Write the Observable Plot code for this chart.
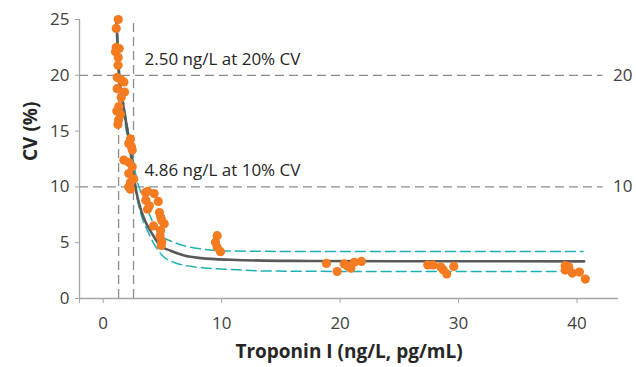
<!DOCTYPE html>
<html><head><meta charset="utf-8">
<script src="https://cdn.jsdelivr.net/npm/d3@7"></script>
<script src="https://cdn.jsdelivr.net/npm/@observablehq/plot@0.6"></script>
<style>body{margin:0;background:#fff}</style>
</head><body><div id="chart"></div>
<script>
// measured samples: Troponin I (ng/L) and CV (%)
const sampleConc = [1.27,1.10,1.10,1.35,1.04,1.27,1.25,1.18,1.50,1.75,1.18,1.80,1.52,1.32,1.15,1.46,1.30,1.24,
  2.30,2.16,2.39,2.45,1.74,2.16,2.45,2.16,2.58,2.30,2.16,2.30,
  3.57,3.75,4.30,3.60,3.90,4.65,3.75,4.75,4.85,5.15,4.25,4.95,4.85,4.80,4.95,4.90,
  9.62,9.48,9.62,9.90,
  18.85,19.75,20.35,20.65,20.90,21.20,21.80,
  27.4,27.85,28.5,28.7,29.0,29.6,
  39.0,39.3,39.0,39.6,40.2,40.7];
const sampleCV = [25.0,24.2,22.5,22.4,22.1,21.6,20.9,19.8,19.6,19.4,18.8,18.5,18.0,17.2,16.8,16.5,16.0,15.6,
  14.3,13.9,13.6,13.3,12.4,12.2,11.8,11.2,10.7,10.4,10.0,9.8,
  9.5,9.6,9.4,8.8,8.3,8.7,8.0,7.7,7.3,6.7,6.5,7.0,6.1,5.6,5.1,4.75,
  5.63,5.05,4.6,4.2,
  3.14,2.42,3.1,2.9,2.72,3.25,3.32,
  3.0,3.0,2.82,2.57,2.2,2.87,
  2.94,2.85,2.55,2.28,2.37,1.74];
// precision profile fit
const fitConc = [1.12,1.34,1.66,2.05,2.35,2.65,2.85,3.2,3.6,4.02,4.8,5.7,6.84,8.25,10.8,15.9,25,40.6];
const fitCV   = [25.0,20.0,17.6,15.0,13.0,10.5,9.3,7.9,6.8,6.0,4.75,4.28,3.85,3.62,3.47,3.37,3.34,3.33];
const upperConc = [1.16,1.40,1.75,2.15,2.5,2.85,3.15,3.49,4.0,4.4,4.87,5.71,6.84,8.25,10.8,15,40.5];
const upperCV   = [25.0,20.0,17.3,14.8,12.6,10.6,9.6,8.7,7.3,6.4,5.63,5.15,4.73,4.45,4.25,4.22,4.22];
const lowerConc = [1.08,1.29,1.6,2.0,2.3,2.55,2.8,3.18,3.74,4.30,5.01,5.99,7.40,8.82,10.8,14,20,40.5];
const lowerCV   = [25.0,20.0,17.5,14.7,12.8,10.8,9.3,7.58,6.08,4.88,3.83,3.23,2.88,2.72,2.6,2.46,2.43,2.43];
// axes and reference lines
const xDomain = [-2, 43.5];
const yDomain = [0, 25];
const xTicks = [0, 10, 20, 30, 40];
const yTicks = [0, 5, 10, 15, 20, 25];
const cvLevels = [20, 10];
const cvLevelEnd = 42.2;
const cutoffConc = [1.3, 2.56];
const cutoffTop = [20, 25];
const annoText = ["2.50 ng/L at 20% CV", "4.86 ng/L at 10% CV"];
const annoCV = [20, 10];
const xTitle = "Troponin I (ng/L, pg/mL)";
const yTitle = "CV (%)";

const toRows = (xs, ys) => xs.map((x, i) => ({x, y: ys[i]}));
const samples = toRows(sampleConc, sampleCV);
const fit = toRows(fitConc, fitCV);
const upper = toRows(upperConc, upperCV);
const lower = toRows(lowerConc, lowerCV);
const cutoffs = cutoffConc.map((x, i) => ({x, top: cutoffTop[i]}));
const annos = annoText.map((t, i) => ({t, y: annoCV[i]}));

const FONT = "'Open Sans', 'Noto Sans', sans-serif";
const gridGray = "#8c8c8c";
const axisGray = "#a6a6a6";
const textCol = "#404040";

const chart = Plot.plot({
  width: 636, height: 367,
  marginLeft: 79, marginRight: 18, marginTop: 19, marginBottom: 69,
  x: {domain: xDomain},
  y: {domain: yDomain},
  style: {fontFamily: FONT, fontSize: "17px", color: textCol, background: "#fff"},
  marks: [
    Plot.ruleY(cvLevels, {x1: xDomain[0], x2: cvLevelEnd, stroke: gridGray, strokeWidth: 1.3, strokeDasharray: "9,5"}),
    Plot.text(cvLevels, {x: cvLevelEnd, y: d => d, text: d => String(d), textAnchor: "start", dx: 10, fontSize: 17, fill: textCol}),
    Plot.ruleX(cutoffs, {x: "x", y1: 0, y2: "top", stroke: gridGray, strokeWidth: 1.3, strokeDasharray: "9,5"}),
    Plot.ruleX([xDomain[0]], {y1: yDomain[0], y2: yDomain[1], stroke: axisGray, strokeWidth: 1.3}),
    Plot.ruleY([yDomain[0]], {x1: xDomain[0], x2: xDomain[1], stroke: axisGray, strokeWidth: 1.3}),
    Plot.axisY({ticks: yTicks, tickSize: 4, tickPadding: 6, stroke: axisGray, fill: textCol, fontSize: 17, label: null}),
    Plot.axisX({ticks: [xDomain[0], ...xTicks], tickFormat: d => d < 0 ? "" : String(d), tickSize: 5, tickPadding: 13, stroke: axisGray, fill: textCol, fontSize: 17, label: null}),
    Plot.line(upper, {x: "x", y: "y", stroke: "#1fb0b2", strokeWidth: 1.5, strokeDasharray: "10,5", curve: "monotone-x"}),
    Plot.line(lower, {x: "x", y: "y", stroke: "#1fb0b2", strokeWidth: 1.5, strokeDasharray: "10,5", curve: "monotone-x"}),
    Plot.line(fit, {x: "x", y: "y", stroke: "#595959", strokeWidth: 2.6, curve: "monotone-x"}),
    Plot.dot(samples, {x: "x", y: "y", r: 4.6, fill: "#f47b20", stroke: "none"}),
    Plot.text(annos, {x: cutoffConc[1], y: "y", text: "t", textAnchor: "start", dx: 11, dy: -16, fontSize: 17, fill: "#262626"}),
    Plot.text([xTitle], {text: d => d, frameAnchor: "bottom", dy: 59, fontSize: 19, fontWeight: "bold", fill: "#262626"}),
    Plot.text([yTitle], {text: d => d, frameAnchor: "left", dx: -49, dy: 2, rotate: -90, fontSize: 19, fontWeight: "bold", fill: "#262626"})
  ]
});
document.getElementById("chart").appendChild(chart);
</script>
</body></html>
